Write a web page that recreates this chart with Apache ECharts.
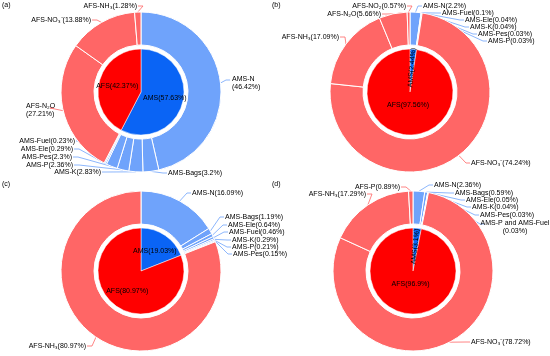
<!DOCTYPE html>
<html><head><meta charset="utf-8">
<script src="https://cdn.jsdelivr.net/npm/echarts@6/dist/echarts.min.js"></script>
<style>html,body{margin:0;padding:0;background:#fff}#c{width:550px;height:356px}</style>
</head><body><div id="c"></div>
<script>
// ---- data ----
const panelLabels = ['(a)', '(b)', '(c)', '(d)'];
const innerNames = ['AMS', 'AFS'];

const amsNamesA = ['AMS-N', 'AMS-Bags', 'AMS-K', 'AMS-P', 'AMS-Pes', 'AMS-Ele', 'AMS-Fuel'];
const amsValsA = [46.42, 3.2, 2.83, 2.36, 2.3, 0.29, 0.23];
const afsNamesA = ['AFS-N₂O', 'AFS-NO₃⁻', 'AFS-NH₃'];
const afsValsA = [27.21, 13.88, 1.28];
const innerValsA = [57.63, 42.37];

const amsNamesB = ['AMS-N', 'AMS-Fuel', 'AMS-Ele', 'AMS-K', 'AMS-Pes', 'AMS-P'];
const amsValsB = [2.2, 0.1, 0.04, 0.04, 0.03, 0.03];
const afsNamesB = ['AFS-NO₃⁻', 'AFS-NH₃', 'AFS-N₂O', 'AFS-NO₂'];
const afsValsB = [74.24, 17.09, 5.66, 0.57];
const innerValsB = [2.44, 97.56];

const amsNamesC = ['AMS-N', 'AMS-Bags', 'AMS-Ele', 'AMS-Fuel', 'AMS-K', 'AMS-P', 'AMS-Pes'];
const amsValsC = [16.09, 1.19, 0.64, 0.46, 0.29, 0.21, 0.15];
const afsNamesC = ['AFS-NH₃'];
const afsValsC = [80.97];
const innerValsC = [19.03, 80.97];

const amsNamesD = ['AMS-N', 'AMS-Bags', 'AMS-Ele', 'AMS-K', 'AMS-Pes', 'AMS-P and AMS-Fuel'];
const amsValsD = [2.36, 0.59, 0.05, 0.04, 0.03, 0.03];
const afsNamesD = ['AFS-NO₃⁻', 'AFS-NH₃', 'AFS-P'];
const afsValsD = [78.72, 17.29, 0.89];
const innerValsD = [3.1, 96.9];

// ---- styling / layout ----
const C_AMS_OUT = '#6fa3fb', C_AFS_OUT = '#ff6666', C_AMS_IN = '#0a64f5', C_AFS_IN = '#ff0000';
const FONT = 'Liberation Sans, Arial, sans-serif';
const twoLine = {'AMS-N|a': true, 'AFS-N₂O|a': true, 'AMS-P and AMS-Fuel|d': true};

// label placement: [x, y, align, optional line end]
const labelPos = {
  a: {
    'AFS-NH₃': [137, 6, 'right'],
    'AFS-NO₃⁻': [91, 20, 'right'],
    'AFS-N₂O': [26, 110, 'left', [54, 108]],
    'AMS-N': [232, 83, 'left', [230, 80]],
    'AMS-Fuel': [75, 141, 'right'],
    'AMS-Ele': [73, 149, 'right'],
    'AMS-Pes': [72, 157, 'right'],
    'AMS-P': [73, 165, 'right'],
    'AMS-K': [101, 172, 'right'],
    'AMS-Bags': [168, 173, 'left']
  },
  b: {
    'AFS-NO₂': [406, 6, 'right'],
    'AFS-N₂O': [381, 14, 'right'],
    'AFS-NH₃': [339, 37, 'right'],
    'AFS-NO₃⁻': [471, 163, 'left'],
    'AMS-N': [423, 6, 'left'],
    'AMS-Fuel': [442, 13, 'left'],
    'AMS-Ele': [465, 20, 'left'],
    'AMS-K': [470, 27, 'left'],
    'AMS-Pes': [478, 34, 'left'],
    'AMS-P': [488, 41, 'left']
  },
  c: {
    'AMS-N': [192, 193, 'left'],
    'AMS-Bags': [225, 217, 'left'],
    'AMS-Ele': [228, 225, 'left'],
    'AMS-Fuel': [229, 232, 'left'],
    'AMS-K': [232, 240, 'left'],
    'AMS-P': [232, 247, 'left'],
    'AMS-Pes': [233, 254, 'left'],
    'AFS-NH₃': [86, 346, 'right']
  },
  d: {
    'AFS-P': [400, 187, 'right'],
    'AFS-NH₃': [366, 194, 'right'],
    'AFS-NO₃⁻': [471, 342, 'left'],
    'AMS-N': [434, 185, 'left'],
    'AMS-Bags': [455, 193, 'left'],
    'AMS-Ele': [466, 200, 'left'],
    'AMS-K': [472, 207, 'left'],
    'AMS-Pes': [480, 215, 'left'],
    'AMS-P and AMS-Fuel': [515, 227, 'center', [484, 224]]
  }
};

const panels = [
  {key: 'a', c: [141, 92], an: amsNamesA, av: amsValsA, fn: afsNamesA, fv: afsValsA, iv: innerValsA},
  {key: 'b', c: [410, 92], an: amsNamesB, av: amsValsB, fn: afsNamesB, fv: afsValsB, iv: innerValsB},
  {key: 'c', c: [141, 271], an: amsNamesC, av: amsValsC, fn: afsNamesC, fv: afsValsC, iv: innerValsC},
  {key: 'd', c: [413, 271], an: amsNamesD, av: amsValsD, fn: afsNamesD, fv: afsValsD, iv: innerValsD}
];

const series = [];
const outerNames = {};
const innerInfo = {};
panels.forEach(p => {
  const inner = innerNames.map((n, i) => {
    const small = p.iv[i] < 5;
    return {
      name: n, value: p.iv[i],
      itemStyle: {color: i === 0 ? C_AMS_IN : C_AFS_IN},
      label: small ? {rotate: 'radial'} : {}
    };
  });
  innerInfo[series.length] = p.iv;
  series.push({
    type: 'pie', center: p.c, radius: [0, 43], startAngle: 90, clockwise: true,
    silent: true, animation: false,
    itemStyle: {borderColor: '#fff', borderWidth: 0.5},
    label: {position: 'inside', formatter: '{b}({c}%)', color: '#000', fontSize: 7, fontFamily: FONT},
    labelLine: {show: false},
    labelLayout: prm => {
      const v = innerInfo[prm.seriesIndex][prm.dataIndex];
      return v > 90 ? {dy: -11} : {};
    },
    data: inner
  });
  const outer = [];
  p.an.forEach((n, i) => outer.push({name: n, value: p.av[i], itemStyle: {color: C_AMS_OUT}}));
  p.fn.forEach((n, i) => outer.push({name: n, value: p.fv[i], itemStyle: {color: C_AFS_OUT}}));
  const key = p.key;
  outerNames[series.length] = {key: key, names: outer.map(d => d.name)};
  series.push({
    type: 'pie', center: p.c, radius: [47, 80], startAngle: 90, clockwise: true,
    silent: true, animation: false, minShowLabelAngle: 0, avoidLabelOverlap: false,
    itemStyle: {borderColor: '#fff', borderWidth: 1},
    label: {
      position: 'outside', color: '#000', fontSize: 7, fontFamily: FONT, lineHeight: 8,
      width: 300, overflow: 'none',
      formatter: prm => twoLine[prm.name + '|' + key] ? prm.name + '\n(' + prm.value + '%)' : prm.name + '(' + prm.value + '%)'
    },
    labelLine: {show: true, length: 6, length2: 8, lineStyle: {width: 0.8}},
    labelLayout: prm => {
      const info = outerNames[prm.seriesIndex];
      const nm = info.names[prm.dataIndex];
      const pos = labelPos[info.key][nm];
      if (!pos) return {};
      const [x, y, align, lineEnd] = pos;
      const p0 = prm.labelLinePoints ? prm.labelLinePoints[0] : null;
      let end = lineEnd;
      if (!end) end = align === 'right' ? [x + 1, y] : [x - 1, y];
      const mid = [end[0] + (align === 'right' ? 5 : -4), end[1]];
      const res = {x: x, y: y, align: align, verticalAlign: 'middle'};
      if (p0) res.labelLinePoints = [p0, mid, end];
      return res;
    },
    data: outer
  });
});

const chart = echarts.init(document.getElementById('c'), null, {renderer: 'canvas'});
chart.setOption({
  backgroundColor: '#fff',
  animation: false,
  title: panelLabels.map((t, i) => ({
    text: t, left: i % 2 === 0 ? 2 : 272, top: i < 2 ? 2 : 181, padding: 0,
    textStyle: {fontSize: 7, fontWeight: 'normal', color: '#000', fontFamily: FONT}
  })),
  series: series
});
</script></body></html>
